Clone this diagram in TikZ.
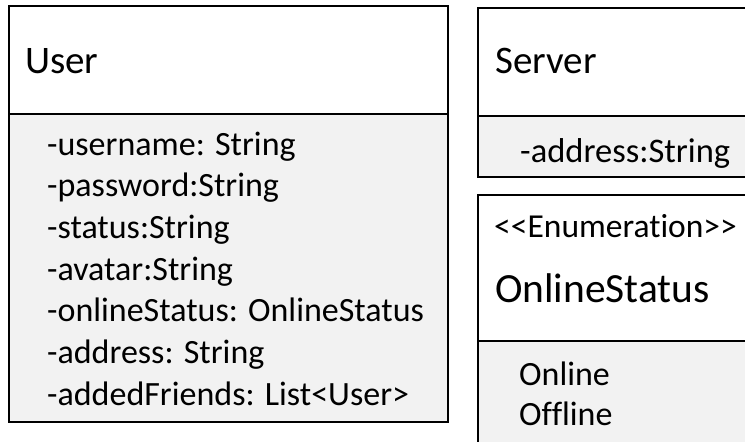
\documentclass[tikz,border=0pt]{standalone}
\usepackage{fontspec}
\setmainfont{Carlito}[Ligatures=NoCommon]
\definecolor{attrfill}{HTML}{F2F2F2}
\begin{document}
\begin{tikzpicture}[x=1pt,y=-1pt,
  boxline/.style={draw=black,line width=2pt},
  titletext/.style={anchor=base west,inner sep=0pt,font=\fontsize{39}{47}\selectfont},
  attrtext/.style={anchor=base west,inner sep=0pt,font=\fontsize{34}{41}\selectfont},
  stereotext/.style={anchor=base west,inner sep=0pt,font=\fontsize{33.5}{40}\selectfont}]
\useasboundingbox (0,0) rectangle (745,442);
\clip (0,0) rectangle (745,442);
% User class
\fill[white] (9,6) rectangle (447.5,114);
\fill[attrfill] (9,114) rectangle (447.5,421.5);
\draw[boxline] (9,6) rectangle (447.5,421.5);
\draw[boxline] (9,114) -- (447.5,114);
\node[titletext] (usertitle) at (25,73) {User};
\node[attrtext] (a1) at (47,155) {-username: String};
\node[attrtext] (a2) at (47,196.7) {-password:String};
\node[attrtext] (a3) at (47,238.3) {-status:String};
\node[attrtext] (a4) at (47,280) {-avatar:String};
\node[attrtext] (a5) at (47,321.7) {-onlineStatus: OnlineStatus};
\node[attrtext] (a6) at (47,363.3) {-address: String};
\node[attrtext] (a7) at (47,405) {-addedFriends: List<User>};
% Server class
\fill[white] (478,8) rectangle (760,116);
\fill[attrfill] (478,116) rectangle (760,176.5);
\draw[boxline] (478,8) rectangle (760,176.5);
\draw[boxline] (478,116) -- (760,116);
\node[titletext] (servertitle) at (495,73) {Server};
\node[attrtext,font=\fontsize{34.5}{41}\selectfont] (s1) at (520,162) {-address:String};
% OnlineStatus enumeration
\fill[white] (478,195) rectangle (760,341);
\fill[attrfill] (478,341) rectangle (760,460);
\draw[boxline] (478,460) -- (478,195) -- (760,195);
\draw[boxline] (478,341) -- (760,341);
\node[stereotext] (stereo) at (494,237) {<{}<Enumeration>{}>};
\node[titletext,font=\fontsize{41.5}{50}\selectfont] (enumtitle) at (495,302) {OnlineStatus};
\node[attrtext] (e1) at (519,385) {Online};
\node[attrtext] (e2) at (519,425) {Offline};
\end{tikzpicture}
\end{document}
